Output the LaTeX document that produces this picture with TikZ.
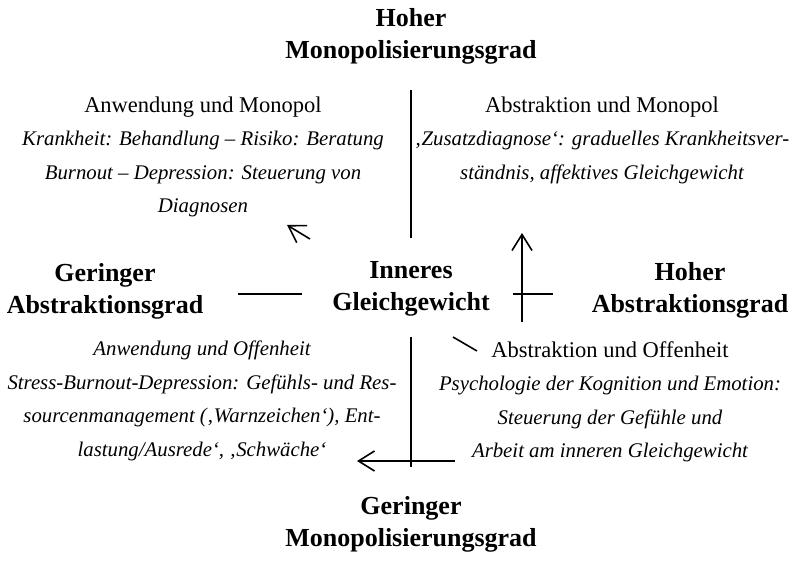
\documentclass[tikz,border=0pt]{standalone}
\usepackage{fontspec}
\setmainfont{Liberation Serif}
\usepackage{tikz}
\usetikzlibrary{arrows.meta}
\newcommand{\fieldtitle}[1]{{\fontsize{22.5}{33.5}\selectfont #1}}
\tikzstyle{edge} = [draw,line width=1.6pt]
\tikzstyle{pole} = [inner sep=0,align=center,font=\fontsize{26}{32}\selectfont\bfseries]
\tikzstyle{field} = [inner sep=0,align=center,font=\fontsize{20.8}{33.5}\selectfont]

\begin{document}
\begin{tikzpicture}[x=1pt,y=-1pt,post/.style={edge,-{Straight Barb[length=16pt,width=20pt]}}]
    \useasboundingbox (0,0) rectangle (795,560);

    \node[pole] (mh) at (411,36) {Hoher\\Monopolisierungsgrad};
    \node[pole] (mg) at (411,524) {Geringer\\Monopolisierungsgrad};
    \node[pole] (ag) at (105,291) {Geringer\\Abstraktionsgrad};
    \node[pole] (ah) at (690,290) {Hoher\\Abstraktionsgrad};
    \node[pole] (ig) at (411,289) {Inneres\\Gleichgewicht};

    \node[field] (am) at (203,157) {\fieldtitle{Anwendung und Monopol}\\\itshape Krankheit: Behandlung -- Risiko: Beratung\\\itshape Burnout -- Depression: Steuerung von\\\itshape Diagnosen};
    \node[field] (abm) at (602,140) {\fieldtitle{Abstraktion und Monopol}\\\itshape ‚Zusatzdiagnose‘: graduelles Krankheitsver-\\\itshape ständnis, affektives Gleichgewicht};
    \node[field] (ao) at (202,401) {\itshape Anwendung und Offenheit\\\itshape Stress-Burnout-Depression: Gefühls- und Res-\\\itshape sourcenmanagement (‚Warnzeichen‘), Ent-\\\itshape lastung/Ausrede‘, ‚Schwäche‘};
    \node[field] (abo) at (610,402) {\fieldtitle{Abstraktion und Offenheit}\\\itshape Psychologie der Kognition und Emotion:\\\itshape Steuerung der Gefühle und\\\itshape Arbeit am inneren Gleichgewicht};

    % axes
    \coordinate (vt1) at (411,90);
    \coordinate (vt2) at (411,238);
    \coordinate (vb1) at (411,337);
    \coordinate (vb2) at (411,467);
    \coordinate (hl1) at (238,294);
    \coordinate (hl2) at (302,294);
    \coordinate (hr1) at (513,294);
    \coordinate (hr2) at (553,294);

    \draw[edge] (vt1) -- (vt2);
    \draw[edge] (vb1) -- (vb2);
    \draw[edge] (hl1) -- (hl2);
    \draw[edge] (hr1) -- (hr2);

    % arrows
    \coordinate (up1) at (522,322);
    \coordinate (up2) at (522,233);
    \coordinate (nw1) at (310,239);
    \coordinate (nw2) at (287,225);
    \coordinate (lf1) at (455,461);
    \coordinate (lf2) at (357,461);
    \coordinate (se1) at (453,337);
    \coordinate (se2) at (477,351);

    \draw[post] (up1) -- (up2);
    \draw[post] (nw1) -- (nw2);
    \draw[post] (lf1) -- (lf2);
    \draw[edge] (se1) -- (se2);

\end{tikzpicture}
\end{document}
